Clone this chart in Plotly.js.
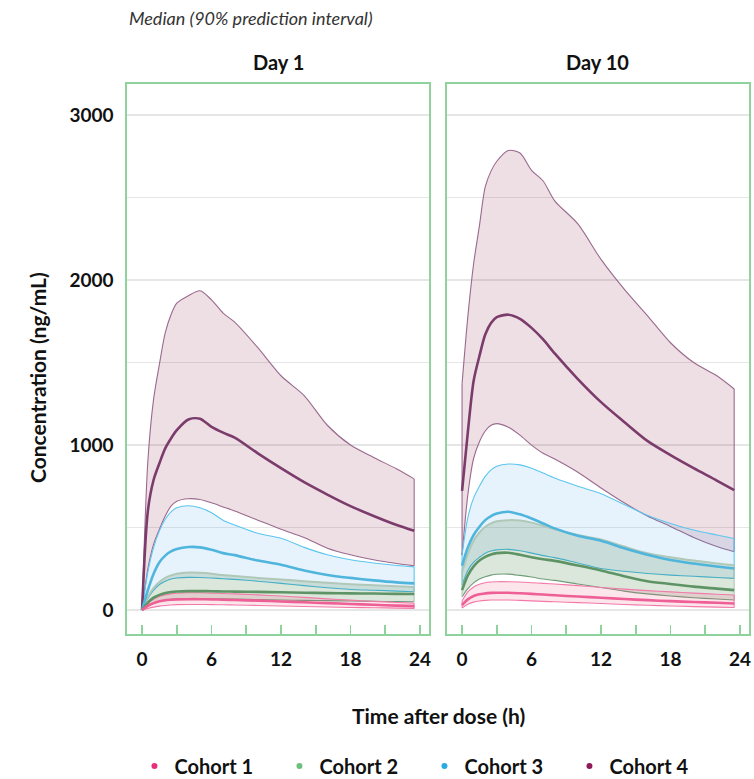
<!DOCTYPE html>
<html><head><meta charset="utf-8">
<script src="https://cdn.plot.ly/plotly-3.0.1.min.js"></script>
<style>body{margin:0;background:#fff}#chart{width:754px;height:779px}</style>
</head><body><div id="chart"></div>
<script>
// ---- DATA ----
const time = [0,0.5,1,1.5,2,2.5,3,4,5,6,7,8,10,12,14,16,18,20,22,23.5];
const cohorts = ['Cohort 1','Cohort 2','Cohort 3','Cohort 4'];
const panels = ['Day 1','Day 10'];

// Day 1 (lower 5%, median, upper 95%)
const d1_c1_lo = [0,10,18,24,28,31,33,34,34,33,32,31,28,25,22,19,16,14,12,10];
const d1_c1_md = [0,25,42,53,60,63,65,66,66,65,63,61,57,52,47,42,37,32,27,24];
const d1_c1_up = [0,40,65,82,92,98,102,105,105,103,100,98,92,85,77,68,60,53,46,42];
const d1_c2_lo = [0,25,40,52,60,65,68,70,70,69,68,67,64,61,59,57,55,53,51,50];
const d1_c2_md = [0,45,75,92,103,110,113,115,115,114,113,112,110,108,105,103,101,100,98,97];
const d1_c2_up = [0,80,135,170,195,210,220,227,226,220,212,206,195,186,175,165,156,150,144,140];
const d1_c3_lo = [0,70,120,155,175,188,194,198,197,194,190,186,175,162,148,135,125,120,115,111];
const d1_c3_md = [0,120,220,290,330,355,370,382,380,365,345,333,300,275,240,213,195,180,168,162];
const d1_c3_up = [0,230,380,480,550,595,620,632,620,590,545,515,465,435,380,335,305,285,270,262];
const d1_c4_lo = [0,250,400,490,570,630,660,675,670,650,625,600,545,490,440,375,335,305,282,268];
const d1_c4_md = [0,600,790,890,980,1040,1090,1155,1160,1110,1075,1045,950,860,775,700,630,570,515,480];
const d1_c4_up = [0,900,1280,1490,1680,1790,1860,1905,1935,1880,1800,1745,1590,1420,1300,1120,1000,925,855,795];

// Day 10
const d10_c1_lo = [12,35,48,55,59,61,61,61,59,56,53,50,45,40,34,29,25,21,18,16];
const d10_c1_md = [30,65,85,96,101,104,105,105,102,98,94,90,82,75,67,60,54,49,44,40];
const d10_c1_up = [55,110,140,157,166,170,172,172,170,166,162,158,148,137,127,118,110,103,96,91];
const d10_c2_lo = [80,130,165,188,202,212,217,218,210,200,188,180,158,137,115,98,85,75,67,61];
const d10_c2_md = [121,210,265,300,322,337,345,347,335,320,308,298,270,240,205,175,158,142,130,121];
const d10_c2_up = [230,340,420,470,505,525,538,545,543,530,510,490,455,428,385,345,320,300,283,273];
const d10_c3_lo = [152,240,290,320,345,358,365,368,360,345,330,318,285,252,235,222,212,205,197,192];
const d10_c3_md = [270,380,455,505,545,570,585,596,580,555,525,495,450,420,375,335,303,282,264,252];
const d10_c3_up = [335,560,680,750,810,850,872,885,880,860,830,800,750,705,640,575,525,485,455,434];
const d10_c4_lo = [333,700,920,1020,1085,1120,1130,1108,1060,1000,950,915,835,740,650,570,507,440,385,353];
const d10_c4_md = [723,1080,1390,1540,1670,1740,1775,1790,1765,1710,1640,1555,1400,1260,1140,1025,939,860,785,727];
const d10_c4_up = [1372,1780,2100,2330,2564,2660,2720,2785,2770,2665,2600,2480,2340,2125,1945,1785,1620,1500,1420,1340];

// ---- STYLE ----
const GREEN = '#8fd39c';
const FONT = 'Lato, "Noto Sans", sans-serif';
const dotColors = ['#e8307a','#6cc07e','#29abe2','#8e1b5a'];
const style = [
  {fill:'rgba(240,80,130,0.15)', edgeUp:'#f27aa8', edgeLo:'#f27aa8', med:'#ee5f95'},
  {fill:'rgba(50,110,50,0.17)', edgeUp:'#afc8b8', edgeLo:'#6f9c78', med:'#5e9465'},
  {fill:'rgba(60,160,230,0.12)', edgeUp:'#5cc6ee', edgeLo:'#4bbbe3', med:'#4fb5dc'},
  {fill:'rgba(140,40,80,0.15)', edgeUp:'#9a6a8e', edgeLo:'#9a6a8e', med:'#7b3c6c'}
];
const days = [
  [[d1_c1_lo,d1_c1_md,d1_c1_up],[d1_c2_lo,d1_c2_md,d1_c2_up],[d1_c3_lo,d1_c3_md,d1_c3_up],[d1_c4_lo,d1_c4_md,d1_c4_up]],
  [[d10_c1_lo,d10_c1_md,d10_c1_up],[d10_c2_lo,d10_c2_md,d10_c2_up],[d10_c3_lo,d10_c3_md,d10_c3_up],[d10_c4_lo,d10_c4_md,d10_c4_up]]
];

const traces = [];
days.forEach((day, p) => {
  const xa = p === 0 ? 'x' : 'x2', ya = p === 0 ? 'y' : 'y2';
  [3,2,1,0].forEach(c => {
    const [lo, md, up] = day[c];
    const s = style[c];
    const common = {x: time, xaxis: xa, yaxis: ya, mode: 'lines', showlegend: false, hoverinfo: 'skip'};
    traces.push(Object.assign({}, common, {y: lo, line: {color: s.edgeLo, width: 1.1, shape: 'spline', smoothing: 0.8}}));
    traces.push(Object.assign({}, common, {y: up, fill: 'tonexty', fillcolor: s.fill,
      line: {color: s.edgeUp, width: c === 1 ? 2 : 1.1, shape: 'spline', smoothing: 0.8}}));
    // band end edges drawn from the data's first/last values
    const n = time.length - 1;
    traces.push({x: [time[0], time[0], null, time[n], time[n]], y: [lo[0], up[0], null, lo[n], up[n]],
      xaxis: xa, yaxis: ya, mode: 'lines', showlegend: false, hoverinfo: 'skip',
      line: {color: s.edgeUp, width: 1.1}});
  });
  [3,2,1,0].forEach(c => {
    const md = day[c][1];
    traces.push({x: time, y: md, xaxis: xa, yaxis: ya, mode: 'lines', showlegend: false, hoverinfo: 'skip',
      line: {color: style[c].med, width: 2.6, shape: 'spline', smoothing: 0.8}});
  });
});
cohorts.forEach((name, i) => {
  traces.push({x: [null], y: [null], mode: 'markers', name: name, marker: {color: dotColors[i], size: 6}, xaxis: 'x', yaxis: 'y'});
});

const xax = (dom, anchor) => ({
  domain: dom, anchor: anchor, range: [-1.3, 24.78], tick0: 0, dtick: 6,
  ticks: 'inside', ticklen: 9, tickwidth: 1.6, tickcolor: GREEN,
  minor: {tick0: 0, dtick: 3, ticks: 'inside', ticklen: 9, tickwidth: 1.6, tickcolor: GREEN},
  showline: true, mirror: true, linecolor: GREEN, linewidth: 1.6,
  showgrid: false, zeroline: false, ticklabelstandoff: 8,
  tickfont: {family: FONT, size: 19, weight: 700, color: '#111'}
});
const yax = (anchor, labels) => ({
  anchor: anchor, range: [-145, 3188], tick0: 0, dtick: 1000, ticks: '',
  showgrid: true, gridcolor: '#e6e6e6', gridwidth: 1.2,
  minor: {tick0: 0, dtick: 500, showgrid: true, gridcolor: '#e6e6e6', gridwidth: 1.2},
  showline: true, mirror: true, linecolor: GREEN, linewidth: 1.6, zeroline: false,
  showticklabels: labels, ticklabelstandoff: 8,
  tickfont: {family: FONT, size: 19, weight: 700, color: '#111'}
});

const layout = {
  width: 754, height: 779,
  margin: {l: 127, r: 5, t: 84, b: 145, autoexpand: false},
  paper_bgcolor: '#fff', plot_bgcolor: '#fff',
  font: {family: FONT, color: '#111'},
  showlegend: true,
  legend: {orientation: 'h', x: 0.012, xanchor: 'left', y: -0.24, yanchor: 'middle',
    font: {family: FONT, size: 20, weight: 700, color: '#111'},
    entrywidth: 100, entrywidthmode: 'pixels', traceorder: 'normal'},
  xaxis: xax([0, 0.4855], 'y'),
  xaxis2: xax([0.5145, 1], 'y2'),
  yaxis: yax('x', true),
  yaxis2: Object.assign(yax('x2', false), {matches: 'y'}),
  annotations: [
    {text: 'Median (90% prediction interval)', xref: 'paper', yref: 'paper', x: 0, y: 1.12,
      xanchor: 'left', yanchor: 'middle', showarrow: false,
      font: {family: FONT, size: 18, style: 'italic', color: '#333'}},
    {text: panels[0], xref: 'paper', yref: 'paper', x: 0.2428, y: 1.04, xanchor: 'center', yanchor: 'middle',
      showarrow: false, font: {family: FONT, size: 20, weight: 700, color: '#111'}},
    {text: panels[1], xref: 'paper', yref: 'paper', x: 0.757, y: 1.04, xanchor: 'center', yanchor: 'middle',
      showarrow: false, font: {family: FONT, size: 20, weight: 700, color: '#111'}},
    {text: 'Concentration (ng/mL)', xref: 'paper', yref: 'paper', x: -0.143, y: 0.4655, textangle: -90,
      xanchor: 'center', yanchor: 'middle', showarrow: false, font: {family: FONT, size: 21, weight: 700, color: '#111'}},
    {text: 'Time after dose (h)', xref: 'paper', yref: 'paper', x: 0.5, y: -0.149, xanchor: 'center', yanchor: 'middle',
      showarrow: false, font: {family: FONT, size: 21, weight: 700, color: '#111'}}
  ]
};
Plotly.newPlot('chart', traces, layout, {displayModeBar: false, staticPlot: true});
</script></body></html>
